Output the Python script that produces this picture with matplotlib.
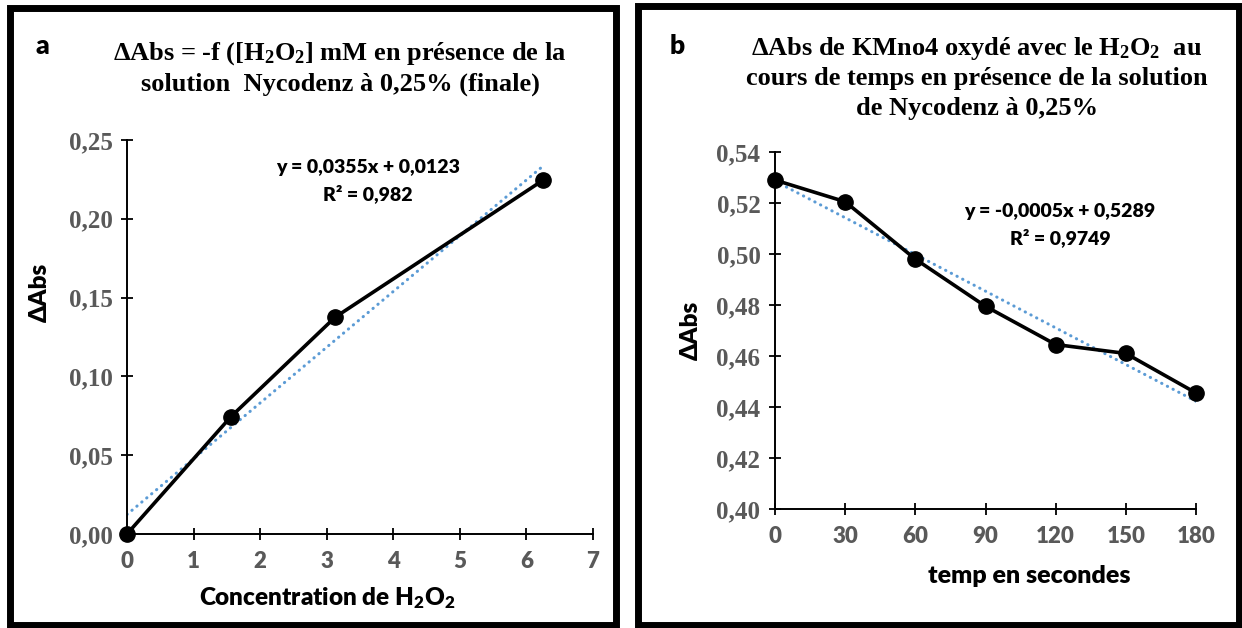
import matplotlib.pyplot as plt
import numpy as np
from matplotlib.patches import Rectangle

plt.rcParams['mathtext.default'] = 'regular'

# données - panneau a
conc = [0, 1.5625, 3.125, 6.25]
dabs_a = [0.0, 0.0745, 0.1375, 0.2245]
xticks_a = [0, 1, 2, 3, 4, 5, 6, 7]
yticks_a = [0.00, 0.05, 0.10, 0.15, 0.20, 0.25]

# données - panneau b
temps = [0, 30, 60, 90, 120, 150, 180]
dabs_b = [0.529, 0.5205, 0.498, 0.4795, 0.4645, 0.461, 0.4455]
yticks_b = [0.40, 0.42, 0.44, 0.46, 0.48, 0.50, 0.52, 0.54]

W, H = 1242, 628
fig = plt.figure(figsize=(W / 100, H / 100), dpi=100)
fig.patch.set_facecolor('white')

serif = 'Liberation Serif'
sans = 'Lato'
gris = '#595959'
bleu = '#5B9BD5'
gras = 'heavy'


def fx(px):
    return px / W


def fy(py):
    return 1 - py / H


# cadres noirs autour des deux graphiques
for (x0, y0, x1, y1) in [(9.5, 8, 615.5, 625), (638, 5.5, 1238.5, 625)]:
    fig.add_artist(Rectangle((fx(x0), fy(y1)), fx(x1) - fx(x0), fy(y0) - fy(y1),
                             transform=fig.transFigure, fill=False,
                             lw=5, edgecolor='black', zorder=10))


def style_axes(ax, xt, yt):
    for s in ['top', 'right']:
        ax.spines[s].set_visible(False)
    for s in ['left', 'bottom']:
        ax.spines[s].set_linewidth(1.4)
        ax.spines[s].set_color('black')
    ax.tick_params(direction='inout', length=9, width=1.3, color='black')
    ax.tick_params(axis='y', pad=6)
    ax.tick_params(axis='x', pad=8)
    ax.set_yticks(yt, [f'{v:.2f}'.replace('.', ',') for v in yt],
                  fontfamily=serif, fontweight='bold', fontsize=18, color=gris)
    ax.set_xticks(xt, [str(v) for v in xt], fontfamily=sans,
                  fontweight=gras, fontsize=16, color=gris)


# ---------- panneau a ----------
ax1 = fig.add_axes([fx(127), fy(534), fx(593) - fx(127), fy(140) - fy(534)])
ax1.plot(conc, dabs_a, color='black', lw=2.6, marker='o', markersize=11,
         zorder=3, clip_on=False)
p = np.polyfit(conc, dabs_a, 1)
xt = np.array([conc[0], conc[-1]])
ax1.plot(xt, np.polyval(p, xt), color=bleu, lw=2.2,
         linestyle=(0, (0.1, 2.0)), dash_capstyle='round', zorder=2)
ax1.set_xlim(0, 7)
ax1.set_ylim(0, 0.25)
style_axes(ax1, xticks_a, yticks_a)

fig.text(fx(42), fy(46), 'a', ha='center', va='center', fontsize=19,
         fontweight=gras, family=sans)
fig.text(fx(340), fy(54), r'ΔAbs = -f ([H$_2$O$_2$] mM en présence de la',
         ha='center', va='center', fontsize=19, fontweight='bold', family=serif)
fig.text(fx(340), fy(84), 'solution  Nycodenz à 0,25% (finale)',
         ha='center', va='center', fontsize=19, fontweight='bold', family=serif)
fig.text(fx(368), fy(168), 'y = 0,0355x + 0,0123', ha='center', va='center',
         fontsize=14, fontweight=gras, family=sans)
fig.text(fx(368), fy(194), 'R² = 0,982', ha='center', va='center',
         fontsize=14, fontweight=gras, family=sans)
fig.text(fx(40), fy(292), 'ΔAbs', ha='center', va='center', rotation=90,
         fontsize=17.5, fontweight=gras, family=[sans, 'DejaVu Sans'])
fig.text(fx(327), fy(598), r'Concentration de H$_2$O$_2$', ha='center',
         va='center', fontsize=17.5, fontweight=gras, family=sans)

# ---------- panneau b ----------
ax2 = fig.add_axes([fx(775), fy(509), fx(1196) - fx(775), fy(152) - fy(509)])
ax2.plot(temps, dabs_b, color='black', lw=2.6, marker='o', markersize=11,
         zorder=3, clip_on=False)
p2 = np.polyfit(temps, dabs_b, 1)
xt2 = np.array([temps[0], temps[-1]])
ax2.plot(xt2, np.polyval(p2, xt2), color=bleu, lw=2.2,
         linestyle=(0, (0.1, 2.0)), dash_capstyle='round', zorder=2)
ax2.set_xlim(0, 180)
ax2.set_ylim(0.40, 0.54)
style_axes(ax2, temps, yticks_b)

fig.text(fx(677), fy(46), 'b', ha='center', va='center', fontsize=19,
         fontweight=gras, family=sans)
fig.text(fx(977), fy(48), r'ΔAbs de KMno4 oxydé avec le H$_2$O$_2$  au',
         ha='center', va='center', fontsize=19, fontweight='bold', family=serif)
fig.text(fx(977), fy(78), 'cours de temps en présence de la solution',
         ha='center', va='center', fontsize=19, fontweight='bold', family=serif)
fig.text(fx(977), fy(108), 'de Nycodenz à 0,25%',
         ha='center', va='center', fontsize=19, fontweight='bold', family=serif)
fig.text(fx(1060), fy(212), 'y = -0,0005x + 0,5289', ha='center', va='center',
         fontsize=14, fontweight=gras, family=sans)
fig.text(fx(1060), fy(238), 'R² = 0,9749', ha='center', va='center',
         fontsize=14, fontweight=gras, family=sans)
fig.text(fx(691), fy(330), 'ΔAbs', ha='center', va='center', rotation=90,
         fontsize=17.5, fontweight=gras, family=[sans, 'DejaVu Sans'])
fig.text(fx(1029), fy(576), 'temp en secondes', ha='center', va='center',
         fontsize=18, fontweight=gras, family=sans)

plt.savefig('out.png', dpi=100, facecolor='white')
